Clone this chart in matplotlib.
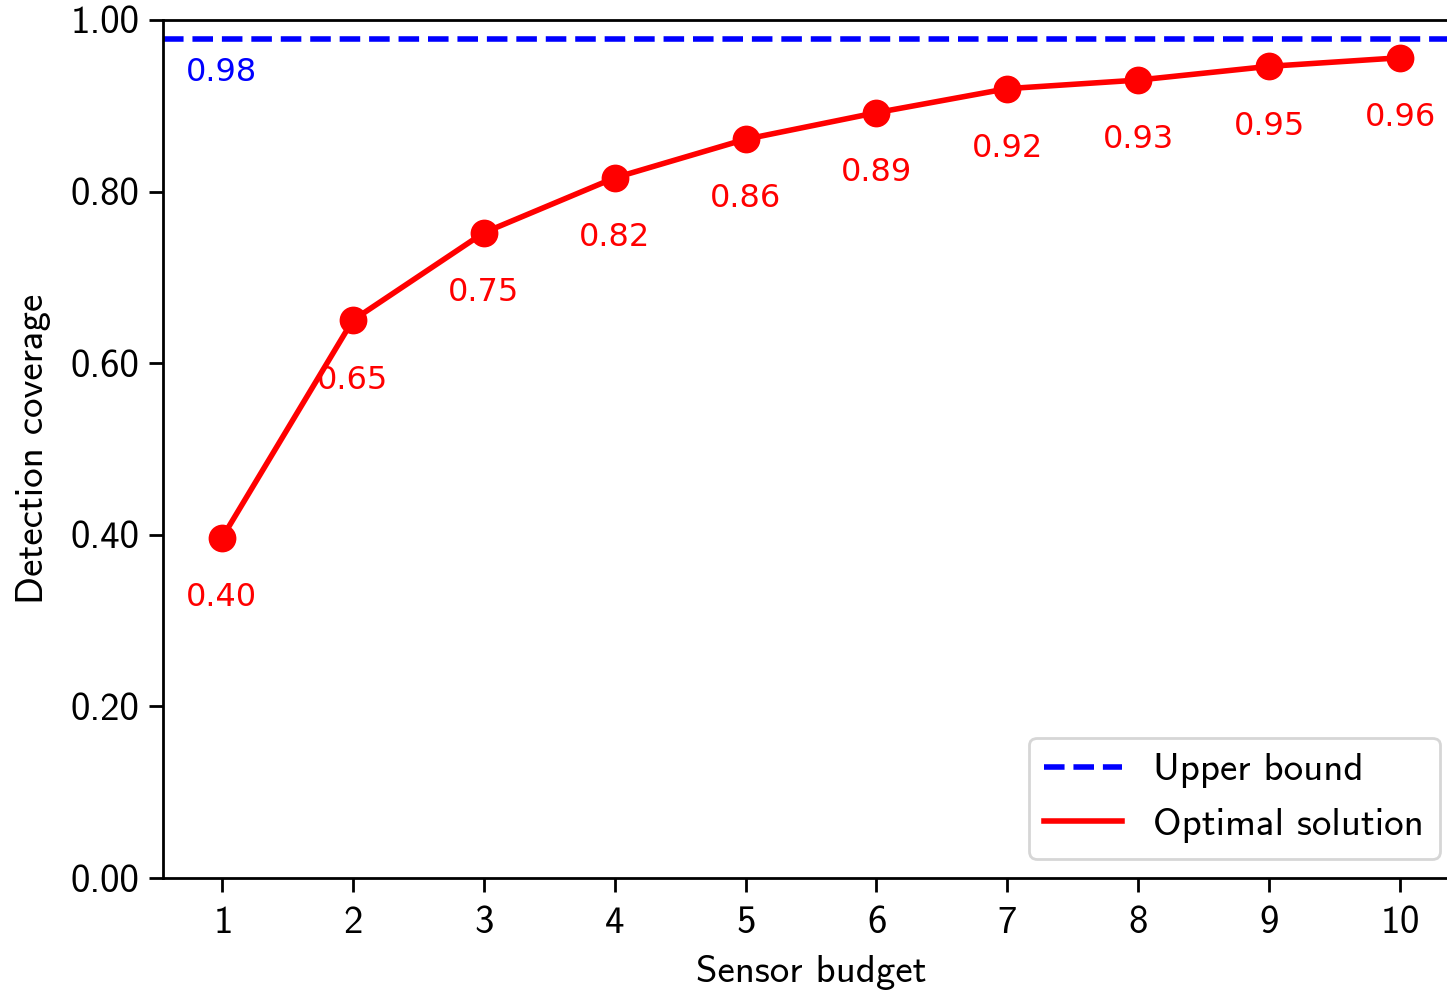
import matplotlib
matplotlib.use("Agg")
import matplotlib.pyplot as plt

# Detection coverage achieved by the optimal sensor placement per budget
budgets = [1, 2, 3, 4, 5, 6, 7, 8, 9, 10]
coverage = [0.396, 0.650, 0.752, 0.816, 0.861, 0.892, 0.920, 0.930, 0.946, 0.956]
upper_bound = 0.978
y_ticks = [0.0, 0.2, 0.4, 0.6, 0.8, 1.0]

plt.rcParams["font.family"] = ["cmss10", "DejaVu Sans"]
plt.rcParams["axes.unicode_minus"] = False
plt.rcParams["axes.formatter.use_mathtext"] = True

fig = plt.figure(figsize=(7.235, 4.95), dpi=200)
ax = fig.add_axes([0.1126, 0.1131, 0.8957, 0.8667])

ax.axhline(upper_bound, color="blue", linestyle="--", linewidth=2.0, label="Upper bound")
ax.plot(budgets, coverage, color="red", linewidth=2.0, label="Optimal solution")
ax.plot(budgets, coverage, "o", color="red", markersize=9)

ann_font = dict(family="DejaVu Sans", fontsize=11.5, ha="center", va="center")
for b, c in zip(budgets, coverage):
    ax.annotate(f"{c:.2f}", (b, c), xytext=(0, -21.5), textcoords="offset points",
                color="red", **ann_font)
ax.annotate(f"{upper_bound:.2f}", (budgets[0], upper_bound), xytext=(0, -12),
            textcoords="offset points", color="blue", **ann_font)

ax.set_xlim(0.55, 10.45)
ax.set_ylim(0, 1.0)
ax.set_xticks(budgets)
ax.set_yticks(y_ticks)
ax.set_yticklabels([f"{t:.2f}" for t in y_ticks])
ax.tick_params(labelsize=14, length=5, width=1)
ax.tick_params(axis="x", pad=5)
ax.set_xlabel("Sensor budget", fontsize=14, labelpad=5)
ax.set_ylabel("Detection coverage", fontsize=14, labelpad=7)
for s in ax.spines.values():
    s.set_linewidth(1.0)

leg = ax.legend(loc="lower right", fontsize=14, handlelength=2.0,
                fancybox=True, framealpha=0.8)

fig.savefig("out.png", dpi=200)
